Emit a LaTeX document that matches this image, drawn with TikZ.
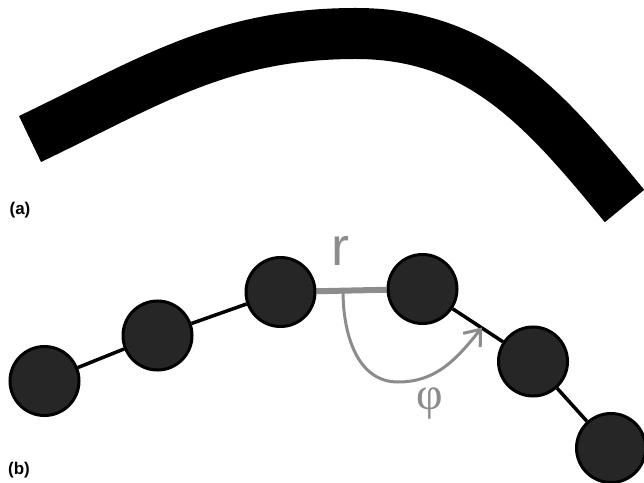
\documentclass[tikz,border=0pt]{standalone}
\usepackage{fontspec}
\setmainfont{Liberation Sans}
\newfontfamily\phifont{Liberation Serif}
\usetikzlibrary{arrows.meta,backgrounds}
\definecolor{ballfill}{HTML}{262626}
\definecolor{graycol}{HTML}{8C8C8C}
\begin{document}
\begin{tikzpicture}[x=1pt,y=1pt,
  ball/.style={circle,draw=black,line width=3pt,fill=ballfill,minimum size=69pt,inner sep=0pt},
  bond/.style={line width=3.5pt,black},
  graybar/.style={line width=6pt,graycol},
  anglearrow/.style={line width=3pt,graycol,-{Straight Barb[length=14pt,width=22pt]}},
  panel/.style={font=\bfseries\fontsize{17}{20}\selectfont,inner sep=0pt},
  band/.style={line width=51pt,black,line cap=butt}]
\useasboundingbox (0,0) rectangle (644,482);
% (a) band
\coordinate (s) at (30,343);
\coordinate (p) at (356,448.5);
\coordinate (e) at (624.5,276);
\draw[band] (s) to[out=25.6,in=180] (p) to[out=0,in=129.4] (e);
\node[panel] (la) at (20,271.5) {(a)};
% (b) chain
\node[ball] (b1) at (44.5,101) {};
\node[ball] (b2) at (157.5,146.5) {};
\node[ball] (b3) at (280.5,190) {};
\node[ball] (b4) at (422.5,193) {};
\node[ball] (b5) at (533,120.5) {};
\node[ball] (b6) at (611,34) {};
\begin{scope}[on background layer]
  \draw[bond] (b1) -- (b2);
  \draw[bond] (b2) -- (b3);
  \draw[bond] (b4) -- (b5);
  \draw[bond] (b5) -- (b6);
  \draw[graybar] (b3) -- (b4);
\end{scope}
\coordinate (a0) at (343,191);
\coordinate (abot) at (398,100);
\coordinate (atip) at (482,154.5);
\draw[anglearrow] (a0) to[out=-90,in=180] (abot) to[out=0,in=231] (atip);
\node[inner sep=0pt,text=graycol,font=\fontsize{54}{60}\selectfont] (r) at (340.5,231) {r};
\node[inner sep=0pt,text=graycol,font=\phifont\fontsize{46}{52}\selectfont] (phi) at (429.5,78.5) {φ};
\node[panel] (lb) at (19,11.5) {(b)};
\end{tikzpicture}
\end{document}
